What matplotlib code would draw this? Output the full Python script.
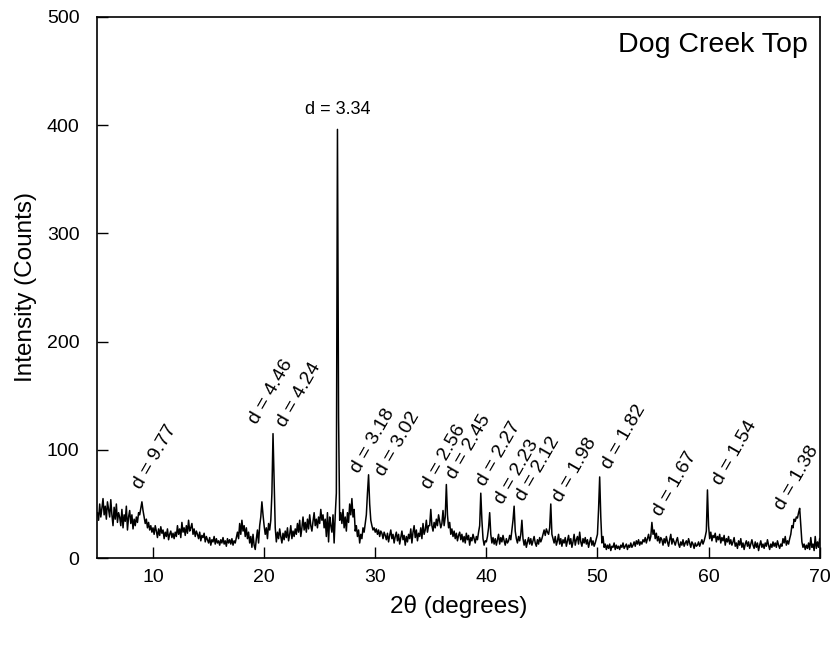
import matplotlib
matplotlib.use("Agg")
import matplotlib.pyplot as plt
import numpy as np

plt.rcParams['font.family'] = ['Liberation Sans', 'DejaVu Sans']

# scan: 2theta from 5 to 70 deg, step 0.1 (one row per degree)
two_theta = np.round(np.arange(5.0, 70.05, 0.1), 1)
counts = [
    42, 35, 50, 38, 46, 55, 40, 48, 36, 52,   # 5
    45, 38, 54, 40, 30, 47, 36, 50, 33, 42,   # 6
    38, 30, 45, 28, 40, 34, 48, 26, 38, 44,   # 7
    32, 40, 27, 36, 30, 38, 33, 42, 40, 46,   # 8
    52, 44, 38, 32, 36, 28, 33, 26, 30, 24,   # 9
    28, 22, 30, 25, 19, 27, 21, 29, 23, 26,   # 10
    18, 24, 20, 27, 17, 22, 25, 19, 23, 18,   # 11
    24, 20, 30, 22, 27, 19, 33, 24, 28, 21,   # 12
    30, 23, 35, 25, 28, 32, 22, 27, 20, 25,   # 13
    22, 18, 24, 16, 21, 19, 23, 15, 20, 17,   # 14
    14, 19, 12, 17, 15, 20, 13, 18, 14, 16,   # 15
    12, 17, 14, 19, 13, 16, 11, 18, 14, 17,   # 16
    13, 18, 12, 16, 14, 19, 24, 18, 32, 22,   # 17
    35, 25, 30, 20, 28, 18, 24, 14, 20, 10,   # 18
    22, 12, 8, 18, 26, 14, 30, 38, 52, 40,    # 19
    30, 22, 28, 18, 32, 26, 35, 60, 115, 70,  # 20
    28, 15, 24, 18, 27, 20, 14, 23, 17, 25,   # 21
    19, 28, 16, 22, 30, 18, 25, 20, 27, 22,   # 22
    32, 24, 35, 20, 28, 38, 26, 33, 24, 36,   # 23
    27, 40, 30, 25, 34, 42, 30, 36, 28, 38,   # 24
    32, 45, 35, 40, 28, 36, 20, 42, 15, 38,   # 25
    30, 24, 40, 14, 40, 60, 396, 130, 35, 42, # 26
    32, 45, 28, 38, 25, 42, 33, 50, 40, 55,   # 27
    38, 45, 25, 30, 20, 26, 14, 22, 18, 28,   # 28
    24, 32, 40, 60, 77, 50, 35, 30, 26, 28,   # 29
    24, 27, 22, 26, 20, 25, 23, 18, 24, 21,   # 30
    17, 23, 15, 21, 26, 18, 22, 14, 20, 24,   # 31
    16, 22, 13, 19, 25, 17, 21, 12, 20, 15,   # 32
    22, 18, 27, 14, 24, 30, 19, 26, 16, 23,   # 33
    20, 28, 18, 32, 22, 26, 35, 24, 30, 30,   # 34
    45, 30, 25, 33, 28, 36, 30, 40, 34, 28,   # 35
    32, 44, 30, 38, 68, 40, 28, 33, 22, 27,   # 36
    20, 25, 18, 23, 16, 21, 24, 17, 22, 15,   # 37
    20, 14, 23, 17, 21, 12, 19, 16, 22, 18,   # 38
    14, 20, 17, 24, 30, 60, 35, 18, 12, 16,   # 39
    15, 20, 28, 42, 22, 14, 19, 13, 18, 12,   # 40
    17, 22, 13, 19, 15, 21, 16, 12, 18, 14,   # 41
    16, 21, 17, 26, 35, 48, 25, 18, 14, 20,   # 42
    16, 22, 35, 18, 12, 17, 10, 15, 19, 13,   # 43
    18, 12, 16, 20, 14, 11, 17, 13, 19, 15,   # 44
    18, 22, 26, 21, 27, 24, 22, 28, 50, 22,   # 45
    18, 14, 20, 12, 16, 22, 13, 18, 11, 17,   # 46
    14, 19, 11, 16, 21, 13, 18, 10, 15, 22,   # 47
    12, 17, 20, 13, 24, 15, 11, 18, 14, 19,   # 48
    13, 17, 10, 15, 19, 12, 16, 11, 14, 18,   # 49
    22, 45, 75, 38, 14, 20, 10, 13, 8, 12,    # 50
    9, 13, 7, 11, 10, 14, 8, 12, 9, 11,       # 51
    8, 12, 10, 14, 9, 11, 13, 8, 12, 10,      # 52
    14, 10, 12, 15, 11, 16, 13, 17, 12, 15,   # 53
    13, 17, 15, 19, 14, 18, 22, 16, 20, 33,   # 54
    22, 26, 18, 23, 16, 20, 14, 19, 17, 12,   # 55
    18, 14, 20, 15, 11, 17, 22, 13, 18, 15,   # 56
    12, 16, 19, 13, 10, 15, 12, 17, 11, 14,   # 57
    16, 12, 18, 14, 10, 15, 13, 9, 14, 11,    # 58
    12, 15, 11, 14, 17, 13, 16, 20, 25, 63,   # 59
    30, 18, 24, 16, 21, 19, 23, 15, 20, 17,   # 60
    22, 14, 19, 16, 21, 12, 18, 15, 20, 13,   # 61
    17, 12, 15, 19, 11, 14, 9, 16, 12, 18,    # 62
    10, 14, 8, 13, 16, 11, 15, 9, 13, 17,     # 63
    12, 9, 15, 10, 14, 7, 12, 16, 10, 13,     # 64
    9, 14, 11, 17, 12, 8, 13, 10, 15, 11,     # 65
    14, 10, 16, 12, 9, 13, 11, 18, 14, 20,    # 66
    12, 16, 13, 18, 22, 30, 28, 36, 34, 38,   # 67
    37, 42, 46, 30, 15, 10, 13, 8, 12, 9,     # 68
    14, 8, 19, 10, 13, 7, 20, 9, 15, 10,      # 69
    18,                                       # 70
]

# peak labels (d-spacing) and where their text starts
d_labels = ["d = 9.77", "d = 4.46", "d = 4.24", "d = 3.18", "d = 3.02",
            "d = 2.56", "d = 2.45", "d = 2.27", "d = 2.23", "d = 2.12",
            "d = 1.98", "d = 1.82", "d = 1.67", "d = 1.54", "d = 1.38"]
label_x = [8.9, 19.4, 21.9, 28.5, 30.8, 34.9, 37.2, 39.9, 41.5, 43.4,
           46.7, 51.1, 55.7, 61.1, 66.7]
label_y = [63, 123, 120, 78, 75, 63, 72, 66, 49, 52, 51, 81, 38, 67, 44]

fig = plt.figure(figsize=(8.33, 6.46), dpi=100)
ax = fig.add_axes([0.117, 0.136, 0.867, 0.838])

ax.plot(two_theta, counts, color='black', lw=1.1)

for txt, lx, ly in zip(d_labels, label_x, label_y):
    ax.text(lx, ly, txt, rotation=60, rotation_mode='anchor',
            ha='left', va='baseline', fontsize=14)
ax.text(26.6, 410, "d = 3.34", ha='center', va='baseline', fontsize=13)
ax.text(0.983, 0.972, "Dog Creek Top", transform=ax.transAxes,
        ha='right', va='top', fontsize=20.5)

ax.set_xlim(5, 70)
ax.set_ylim(0, 500)
ax.set_xticks([10, 20, 30, 40, 50, 60, 70])
ax.set_yticks([0, 100, 200, 300, 400, 500])
ax.tick_params(direction='in', length=8, width=1, labelsize=14,
               top=False, right=False)
ax.tick_params(axis='x', pad=8)
ax.tick_params(axis='y', pad=13)
for s in ax.spines.values():
    s.set_linewidth(1.2)

ax.set_xlabel("2θ (degrees)", fontsize=17.5, labelpad=6)
ax.set_ylabel("Intensity (Counts)", fontsize=17.5, labelpad=7)

fig.savefig("out.png", dpi=100)
